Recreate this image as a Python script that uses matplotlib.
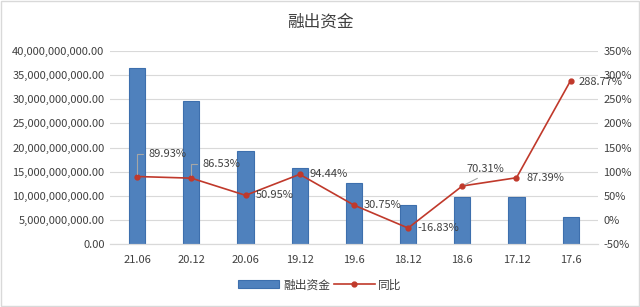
import matplotlib.pyplot as plt
import matplotlib.ticker as mticker
import numpy as np

plt.rcParams['font.family'] = ['Noto Sans CJK SC', 'DejaVu Sans']

categories = ['21.06', '20.12', '20.06', '19.12', '19.6', '18.12', '18.6', '17.12', '17.6']
amounts = [36.4e9, 29.6e9, 19.3e9, 15.75e9, 12.6e9, 8.1e9, 9.75e9, 9.75e9, 5.6e9]
yoy = [89.93, 86.53, 50.95, 94.44, 30.75, -16.83, 70.31, 87.39, 288.77]

bar_color = '#4F81BD'
line_color = '#C0392B'
text_color = '#404040'

fig = plt.figure(figsize=(6.4, 3.07), dpi=100)
fig.patches.append(plt.Rectangle((0.001, 0.002), 0.997, 0.995, transform=fig.transFigure,
                                 fill=False, edgecolor='#D9D9D9', linewidth=1))
ax = fig.add_axes([0.172, 0.205, 0.762, 0.629])
ax2 = ax.twinx()

x = np.arange(len(categories))
bars = ax.bar(x, amounts, 0.3, color=bar_color, edgecolor='#3D6FAD', linewidth=0.8,
              label='融出资金', zorder=2)
ax.set_xlim(-0.5, len(categories) - 0.5)
ax.set_ylim(0, 40e9)
ax.set_yticks(np.arange(0, 40e9 + 1, 5e9))
ax.yaxis.set_major_formatter(mticker.FuncFormatter(lambda v, p: f'{v:,.2f}'))
ax.grid(axis='y', color='#D9D9D9', linewidth=0.8, zorder=0)
ax.set_axisbelow(True)
ax.set_xticks(x)
ax.set_xticklabels(categories)

line, = ax2.plot(x, yoy, color=line_color, marker='o', markersize=3.5, linewidth=1.2,
                 label='同比', zorder=3)
ax2.set_ylim(-50, 350)
ax2.set_yticks(np.arange(-50, 351, 50))
ax2.yaxis.set_major_formatter(mticker.FuncFormatter(lambda v, p: f'{v:.0f}%'))

for a in (ax, ax2):
    for s in ['top', 'left', 'right']:
        a.spines[s].set_visible(False)
    a.spines['bottom'].set_color('#D9D9D9')
    a.tick_params(length=0, labelsize=8, colors=text_color, pad=4)
ax.tick_params(axis='x', pad=8)

# data labels (offsets in points)
offsets = [(8, 16), (8, 10), (7, 0), (7, 0), (7, 0), (7, 0), (3, 12), (7, 0), (6, -1)]
leaders = ['angle', 'angle', None, None, None, None, 'line', None, None]
for xi, yi, off, ld in zip(x, yoy, offsets, leaders):
    kw = {}
    if ld == 'angle':
        kw['arrowprops'] = dict(arrowstyle='-', color='#A6A6A6', linewidth=0.8,
                                connectionstyle='angle,angleA=0,angleB=90,rad=0')
    elif ld == 'line':
        kw['arrowprops'] = dict(arrowstyle='-', color='#A6A6A6', linewidth=0.8,
                                relpos=(0.5, 0.0))
    ax2.annotate(f'{yi:.2f}%', (xi, yi), xytext=off, textcoords='offset points',
                 fontsize=8, color=text_color, va='center', ha='left', **kw)

fig.text(0.5, 0.928, '融出资金', ha='center', va='center', fontsize=12, color=text_color)
fig.legend([bars, line], ['融出资金', '同比'], loc='center', bbox_to_anchor=(0.5, 0.072),
           ncol=2, frameon=False, fontsize=8.5, handlelength=3.5, columnspacing=0.3,
           handletextpad=0.3, labelcolor=text_color)

fig.savefig('out.png', dpi=100)
